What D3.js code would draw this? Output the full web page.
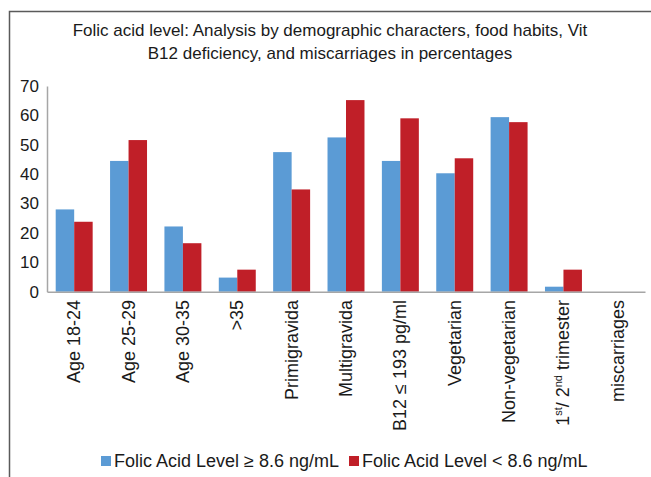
<!DOCTYPE html>
<html>
<head>
<meta charset="utf-8">
<script src="https://cdn.jsdelivr.net/npm/d3@7"></script>
<style>
  body { margin: 0; background: #fff; }
  svg text { font-family: "Liberation Sans", Arial, sans-serif; fill: #1a1a1a; }
</style>
</head>
<body>
<div id="graphic"></div>
<script>
// data
const categories = ["Age 18-24", "Age 25-29", "Age 30-35", ">35", "Primigravida", "Multigravida",
  "B12 ≤ 193 pg/ml", "Vegetarian", "Non-vegetarian", "trimester", "miscarriages"];
const highLevel = [28, 44.5, 22.2, 4.8, 47.5, 52.5, 44.5, 40.3, 59.4, 1.7, 0];
const lowLevel = [23.8, 51.6, 16.5, 7.5, 34.8, 65.2, 59, 45.4, 57.7, 7.5, 0];
const seriesNames = ["Folic Acid Level ≥ 8.6 ng/mL", "Folic Acid Level < 8.6 ng/mL"];
const yTicks = [0, 10, 20, 30, 40, 50, 60, 70];
const titleLines = ["Folic acid level: Analysis by demographic characters, food habits, Vit",
  "B12 deficiency, and miscarriages in percentages"];

const blue = "#5b9bd5";
const red = "#c01f28";

const width = 651, height = 477;
const margin = { left: 47, right: 6, top: 86, bottom: 185 };

const svg = d3.select("#graphic").append("svg")
  .attr("width", width)
  .attr("height", height);

// outer frame (only top and left edges show)
svg.append("path")
  .attr("d", `M9.5,${height} V11.5 H${width}`)
  .attr("fill", "none")
  .attr("stroke", "#5a5a5a")
  .attr("stroke-width", 1.5);

// title
svg.append("text")
  .attr("text-anchor", "middle")
  .attr("font-size", 17)
  .selectAll("tspan")
  .data(titleLines)
  .join("tspan")
  .attr("x", 330)
  .attr("y", (d, i) => 36 + i * 23)
  .text(d => d);

const xScale = d3.scaleBand()
  .domain(categories)
  .range([margin.left, width - margin.right])
  .paddingInner(0.32)
  .paddingOuter(0.16);

const xSub = d3.scaleBand()
  .domain([0, 1])
  .range([0, xScale.bandwidth()]);

const yScale = d3.scaleLinear()
  .domain([0, 70])
  .range([291.7, 86]);

const rows = categories.map((c, i) => ({ cat: c, vals: [highLevel[i], lowLevel[i]] }));

const groups = svg.append("g").selectAll("g")
  .data(rows)
  .join("g")
  .attr("transform", d => `translate(${xScale(d.cat)},0)`);

groups.selectAll("rect")
  .data(d => d.vals.filter(v => v > 0).map((v, k) => ({ v, k })))
  .join("rect")
  .attr("x", d => xSub(d.k))
  .attr("width", xSub.bandwidth())
  .attr("y", d => yScale(d.v))
  .attr("height", d => yScale(0) - yScale(d.v))
  .attr("fill", d => d.k === 0 ? blue : red);

// y axis
const yAxis = d3.axisLeft(yScale)
  .tickValues(yTicks)
  .tickSize(0)
  .tickPadding(8);

const gy = svg.append("g")
  .attr("transform", `translate(${margin.left},0)`)
  .call(yAxis);
gy.select(".domain").attr("stroke", "#a6a6a6").attr("stroke-width", 1.5);
gy.selectAll("text").attr("font-size", 17).attr("font-family", null);

// x axis
const xAxis = d3.axisBottom(xScale).tickSize(0).tickFormat("");
const gx = svg.append("g")
  .attr("transform", `translate(0,${yScale(0)})`)
  .call(xAxis);
gx.select(".domain").attr("stroke", "#a6a6a6").attr("stroke-width", 1.5);

// rotated category labels
const labels = svg.append("g").selectAll("text")
  .data(categories)
  .join("text")
  .attr("font-size", 18)
  .attr("text-anchor", "end")
  .attr("transform", d => `translate(${xScale(d) + xScale.bandwidth() / 2 + 6},300) rotate(-90)`);

labels.filter(d => d !== "trimester").text(d => d);

// the trimester label has superscripts
const tri = labels.filter(d => d === "trimester");
tri.append("tspan").text("1");
tri.append("tspan").attr("font-size", 11).attr("dy", -7).text("st");
tri.append("tspan").attr("dy", 7).text("/ 2");
tri.append("tspan").attr("font-size", 11).attr("dy", -7).text("nd");
tri.append("tspan").attr("dy", 7).text(" trimester");

// legend
const legend = svg.append("g").attr("transform", "translate(101,456)");
const legendX = [0, 248];
seriesNames.forEach((name, i) => {
  const item = legend.append("g").attr("transform", `translate(${legendX[i]},0)`);
  item.append("rect")
    .attr("width", 10)
    .attr("height", 10)
    .attr("fill", i === 0 ? blue : red);
  item.append("text")
    .attr("x", 13)
    .attr("y", 10.5)
    .attr("font-size", 18)
    .text(name);
});
</script>
</body>
</html>
